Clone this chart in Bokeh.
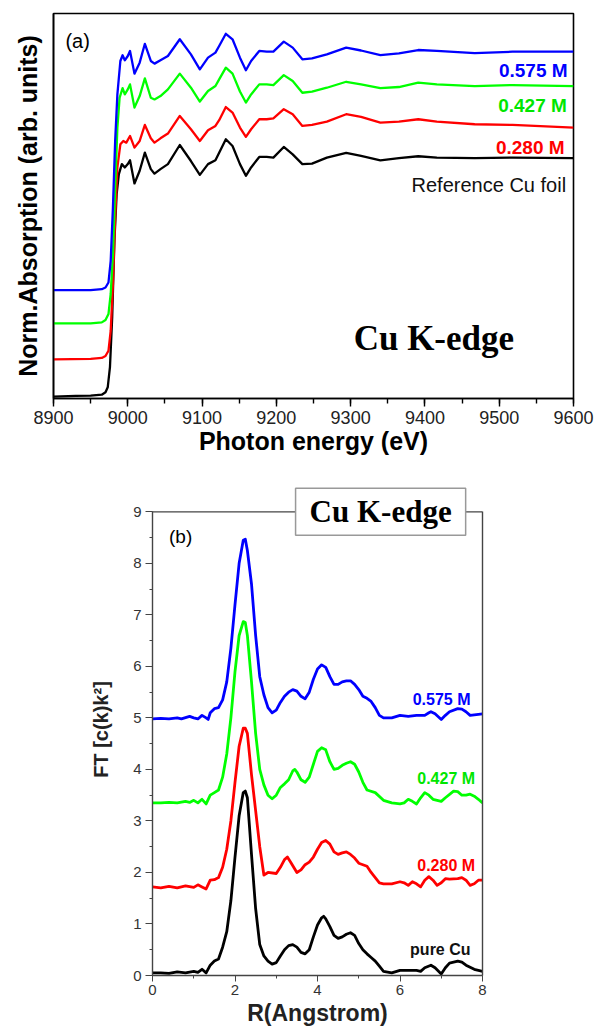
from bokeh.plotting import figure
from bokeh.models import Label, Range1d, SingleIntervalTicker, FixedTicker, LinearAxis, Span
from bokeh.embed import file_html
from bokeh.resources import INLINE

# ---------------- (a) XANES data ----------------
E_foil = [8900, 8930, 8950, 8965, 8970, 8973, 8976, 8979, 8982, 8985, 8988, 8992, 8996, 9000, 9003,
          9009, 9016, 9023, 9031, 9036, 9044, 9054, 9070, 9085, 9097, 9108, 9118, 9123, 9132, 9141,
          9151, 9159, 9166, 9177, 9187, 9196, 9210, 9222, 9235, 9248, 9268, 9294, 9314, 9340, 9365,
          9391, 9416, 9467, 9518, 9600]
mu_foil = [0.000, 0.003, 0.004, 0.008, 0.018, 0.039, 0.123, 0.332, 0.653, 0.848, 0.932, 0.974, 0.960, 0.974, 0.990,
           0.893, 0.946, 1.022, 0.953, 0.934, 0.953, 0.974, 1.054, 0.987, 0.929, 0.974, 0.990, 1.022, 1.078, 1.050,
           0.974, 0.925, 0.960, 1.004, 1.004, 1.001, 1.046, 1.015, 0.974, 0.976, 1.001, 1.021, 1.008, 0.990, 0.999,
           1.007, 1.001, 0.999, 1.001, 0.999]

E_280 = [8900, 8950, 8965, 8970, 8974, 8977, 8980, 8983, 8986, 8990, 8994, 8998, 9003, 9009, 9016,
         9023, 9031, 9036, 9044, 9054, 9070, 9085, 9097, 9108, 9118, 9123, 9132, 9141, 9151, 9159,
         9166, 9177, 9187, 9196, 9210, 9222, 9235, 9248, 9268, 9294, 9314, 9340, 9365, 9391, 9416,
         9467, 9518, 9600]
mu_280 = [0.156, 0.158, 0.162, 0.170, 0.192, 0.276, 0.471, 0.750, 0.960, 1.057, 1.071, 1.064, 1.092, 1.043, 1.071,
          1.138, 1.082, 1.064, 1.082, 1.102, 1.176, 1.120, 1.071, 1.116, 1.134, 1.158, 1.213, 1.190, 1.127, 1.088,
          1.120, 1.162, 1.162, 1.166, 1.204, 1.183, 1.134, 1.138, 1.152, 1.183, 1.172, 1.148, 1.152, 1.162, 1.152,
          1.141, 1.138, 1.127]

E_427 = [8900, 8950, 8965, 8970, 8974, 8977, 8980, 8983, 8986, 8989, 8993, 8996, 9000, 9003, 9009,
         9016, 9023, 9031, 9036, 9044, 9054, 9070, 9085, 9097, 9108, 9118, 9123, 9132, 9141, 9151,
         9159, 9166, 9177, 9187, 9196, 9210, 9222, 9235, 9248, 9268, 9294, 9314, 9340, 9365, 9391,
         9416, 9467, 9518, 9600]
mu_427 = [0.307, 0.307, 0.311, 0.321, 0.346, 0.430, 0.597, 0.876, 1.127, 1.252, 1.292, 1.266, 1.287, 1.308, 1.211,
          1.259, 1.333, 1.252, 1.245, 1.259, 1.287, 1.353, 1.294, 1.236, 1.280, 1.301, 1.329, 1.378, 1.353, 1.278,
          1.232, 1.266, 1.308, 1.308, 1.305, 1.347, 1.322, 1.273, 1.278, 1.294, 1.319, 1.308, 1.292, 1.297, 1.315,
          1.308, 1.301, 1.305, 1.301]

E_575 = [8900, 8950, 8965, 8970, 8974, 8977, 8980, 8983, 8986, 8990, 8993, 8996, 9000, 9003, 9009,
         9016, 9023, 9031, 9036, 9044, 9054, 9070, 9085, 9097, 9108, 9118, 9123, 9132, 9141, 9151,
         9159, 9166, 9177, 9187, 9196, 9210, 9222, 9235, 9248, 9268, 9294, 9314, 9340, 9365, 9391,
         9416, 9467, 9518, 9600]
mu_575 = [0.446, 0.446, 0.450, 0.457, 0.478, 0.569, 0.792, 1.071, 1.266, 1.406, 1.430, 1.409, 1.427, 1.448, 1.353,
          1.399, 1.478, 1.406, 1.395, 1.409, 1.427, 1.497, 1.434, 1.371, 1.420, 1.441, 1.469, 1.520, 1.497, 1.420,
          1.367, 1.406, 1.448, 1.445, 1.445, 1.487, 1.462, 1.413, 1.417, 1.434, 1.462, 1.450, 1.431, 1.438, 1.452,
          1.448, 1.439, 1.445, 1.445]

# ---------------- (b) FT data ----------------
R_cu = [0.0, 0.2, 0.4, 0.6, 0.8, 1.0, 1.1, 1.2, 1.3, 1.4, 1.5, 1.6, 1.7, 1.8, 1.9,
        2.0, 2.1, 2.2, 2.25, 2.3, 2.4, 2.5, 2.6, 2.7, 2.8, 2.9, 3.0, 3.1, 3.2, 3.3,
        3.4, 3.5, 3.6, 3.7, 3.8, 3.9, 4.0, 4.1, 4.15, 4.2, 4.3, 4.4, 4.5, 4.6, 4.7,
        4.8, 4.9, 5.0, 5.1, 5.2, 5.3, 5.4, 5.5, 5.6, 5.8, 6.0, 6.2, 6.4, 6.5, 6.6,
        6.75, 6.85, 7.0, 7.1, 7.2, 7.4, 7.5, 7.6, 7.8, 8.0]
FT_cu = [0.05, 0.05, 0.04, 0.07, 0.05, 0.08, 0.06, 0.12, 0.05, 0.2, 0.28, 0.32, 0.55, 0.85, 1.45,
         2.3, 3.1, 3.55, 3.58, 3.45, 2.35, 1.3, 0.6, 0.38, 0.28, 0.22, 0.25, 0.38, 0.5, 0.58,
         0.6, 0.55, 0.45, 0.42, 0.5, 0.75, 0.98, 1.12, 1.15, 1.1, 0.95, 0.78, 0.72, 0.75, 0.8,
         0.83, 0.78, 0.62, 0.5, 0.42, 0.35, 0.28, 0.18, 0.08, 0.05, 0.1, 0.1, 0.1, 0.08, 0.15,
         0.2, 0.15, 0.03, 0.15, 0.24, 0.28, 0.26, 0.2, 0.12, 0.08]

R_280 = [0.0, 0.2, 0.4, 0.6, 0.8, 1.0, 1.1, 1.2, 1.3, 1.4, 1.5, 1.6, 1.7, 1.8, 1.9,
         2.0, 2.1, 2.2, 2.25, 2.3, 2.4, 2.5, 2.6, 2.7, 2.8, 3.0, 3.1, 3.2, 3.27, 3.35,
         3.5, 3.6, 3.7, 3.8, 3.9, 4.0, 4.1, 4.2, 4.3, 4.4, 4.5, 4.6, 4.7, 4.8, 4.9,
         5.0, 5.1, 5.2, 5.3, 5.4, 5.5, 5.6, 5.8, 6.0, 6.1, 6.2, 6.3, 6.4, 6.5, 6.6,
         6.7, 6.8, 6.9, 7.0, 7.1, 7.2, 7.4, 7.5, 7.6, 7.7, 7.8, 7.9, 8.0]
FT_280 = [1.72, 1.70, 1.73, 1.70, 1.74, 1.71, 1.76, 1.72, 1.68, 1.85, 1.86, 1.9, 2.1, 2.45, 3.0,
          3.75, 4.45, 4.8, 4.8, 4.7, 3.9, 3.2, 2.5, 1.95, 2.0, 1.98, 2.1, 2.25, 2.3, 2.2,
          2.0, 2.05, 2.15, 2.2, 2.3, 2.45, 2.58, 2.62, 2.55, 2.4, 2.35, 2.38, 2.4, 2.35, 2.28,
          2.18, 2.15, 2.12, 2.0, 1.9, 1.8, 1.78, 1.78, 1.82, 1.8, 1.75, 1.82, 1.78, 1.72, 1.85,
          1.92, 1.85, 1.75, 1.8, 1.88, 1.87, 1.88, 1.9, 1.85, 1.75, 1.78, 1.85, 1.85]

R_427 = [0.0, 0.2, 0.4, 0.6, 0.8, 0.9, 1.0, 1.1, 1.2, 1.3, 1.4, 1.5, 1.6, 1.7, 1.8,
         1.9, 2.0, 2.1, 2.2, 2.25, 2.3, 2.4, 2.5, 2.6, 2.7, 2.8, 2.9, 3.0, 3.1, 3.2,
         3.3, 3.4, 3.45, 3.5, 3.6, 3.7, 3.8, 3.9, 4.0, 4.1, 4.2, 4.3, 4.4, 4.5, 4.6,
         4.7, 4.8, 4.9, 5.0, 5.1, 5.2, 5.4, 5.6, 5.8, 6.0, 6.1, 6.2, 6.3, 6.4, 6.5,
         6.6, 6.7, 6.8, 6.9, 7.0, 7.1, 7.3, 7.4, 7.5, 7.6, 7.7, 7.8, 7.9, 8.0]
FT_427 = [3.35, 3.35, 3.36, 3.35, 3.38, 3.36, 3.4, 3.35, 3.42, 3.33, 3.5, 3.55, 3.6, 3.85, 4.3,
          5.0, 5.9, 6.6, 6.87, 6.85, 6.6, 5.7, 4.7, 4.0, 3.7, 3.5, 3.43, 3.5, 3.65, 3.72,
          3.8, 3.97, 4.0, 3.95, 3.8, 3.75, 3.85, 4.1, 4.35, 4.42, 4.38, 4.15, 4.0, 4.02, 4.08,
          4.12, 4.15, 4.1, 3.95, 3.75, 3.6, 3.55, 3.4, 3.35, 3.33, 3.35, 3.42, 3.38, 3.33, 3.45,
          3.55, 3.5, 3.42, 3.4, 3.38, 3.45, 3.58, 3.57, 3.5, 3.5, 3.52, 3.48, 3.42, 3.35]

R_575 = [0.0, 0.2, 0.4, 0.6, 0.7, 0.9, 1.0, 1.1, 1.2, 1.3, 1.35, 1.4, 1.5, 1.6, 1.7,
         1.8, 1.9, 2.0, 2.1, 2.2, 2.25, 2.3, 2.4, 2.5, 2.6, 2.7, 2.8, 2.9, 3.0, 3.1,
         3.2, 3.3, 3.4, 3.5, 3.6, 3.7, 3.8, 3.9, 4.0, 4.1, 4.2, 4.3, 4.4, 4.5, 4.6,
         4.7, 4.8, 4.9, 5.0, 5.1, 5.2, 5.3, 5.4, 5.5, 5.6, 5.8, 6.0, 6.2, 6.4, 6.6,
         6.7, 6.75, 6.85, 7.0, 7.1, 7.2, 7.4, 7.5, 7.6, 7.7, 7.8, 8.0]
FT_575 = [4.98, 4.99, 4.98, 5.0, 4.98, 5.03, 5.0, 4.98, 5.05, 5.0, 4.97, 5.1, 5.18, 5.2, 5.35,
          5.7, 6.35, 7.2, 8.0, 8.45, 8.47, 8.25, 7.6, 6.6, 5.8, 5.45, 5.2, 5.1, 5.15, 5.3,
          5.42, 5.5, 5.55, 5.52, 5.42, 5.37, 5.5, 5.75, 5.95, 6.03, 5.98, 5.8, 5.65, 5.65, 5.7,
          5.72, 5.72, 5.65, 5.55, 5.42, 5.38, 5.32, 5.2, 5.05, 5.0, 5.0, 5.05, 5.03, 5.05, 5.05,
          5.1, 5.12, 5.08, 4.97, 5.05, 5.12, 5.18, 5.17, 5.12, 5.05, 5.06, 5.08]

SANS = "Liberation Sans"
SERIF = "Liberation Serif"

# ================= Panel (a) =================
p1 = figure(width=595, height=463, x_range=Range1d(8900, 9600), y_range=Range1d(-0.008, 1.605),
            output_backend="svg", toolbar_location=None,
            min_border_left=53, min_border_right=22, min_border_top=13, min_border_bottom=65)
p1.xgrid.visible = False
p1.ygrid.visible = False
p1.outline_line_color = "black"
p1.outline_line_width = 1.6
p1.outline_line_alpha = 1.0

xa = p1.xaxis[0]
xa.ticker = SingleIntervalTicker(interval=100, num_minor_ticks=2)
xa.axis_label = "Photon energy (eV)"
xa.axis_label_text_font = SANS
xa.axis_label_text_font_style = "bold"
xa.axis_label_text_font_size = "25px"
xa.axis_label_text_color = "black"
xa.axis_label_standoff = 0
xa.major_label_text_font = SANS
xa.major_label_text_font_size = "18px"
xa.major_label_text_color = "#222222"
xa.major_label_standoff = 4
xa.major_tick_in = 0
xa.major_tick_out = 8
xa.minor_tick_in = 0
xa.minor_tick_out = 5
xa.axis_line_width = 1.6
xa.major_tick_line_width = 1.4
xa.minor_tick_line_width = 1.4

ya = p1.yaxis[0]
ya.ticker = FixedTicker(ticks=[])
ya.axis_label = "Norm.Absorption (arb. units)"
ya.axis_label_text_font = SANS
ya.axis_label_text_font_style = "bold"
ya.axis_label_text_font_size = "25px"
ya.axis_label_text_color = "black"
ya.axis_label_standoff = 12
ya.major_tick_out = 0
ya.major_tick_in = 0
ya.minor_tick_out = 0
ya.major_label_standoff = 0
ya.axis_line_width = 1.6

p1.line(E_foil, mu_foil, line_color="black", line_width=2.3, line_join="round")
p1.line(E_280, mu_280, line_color="#ff0000", line_width=2.3, line_join="round")
p1.line(E_427, mu_427, line_color="#00ff00", line_width=2.3, line_join="round")
p1.line(E_575, mu_575, line_color="#0000ff", line_width=2.3, line_join="round")

p1.add_layout(Label(x=8916, y=1.49, text="(a)", text_font=SANS, text_font_size="20px",
                    text_color="black", text_align="left", text_baseline="middle"))
p1.add_layout(Label(x=9592, y=1.367, text="0.575 M", text_font=SANS, text_font_style="bold",
                    text_font_size="19px", text_color="#0000ff", text_align="right", text_baseline="alphabetic"))
p1.add_layout(Label(x=9591, y=1.220, text="0.427 M", text_font=SANS, text_font_style="bold",
                    text_font_size="19px", text_color="#00e600", text_align="right", text_baseline="alphabetic"))
p1.add_layout(Label(x=9588, y=1.043, text="0.280 M", text_font=SANS, text_font_style="bold",
                    text_font_size="19px", text_color="#ff0000", text_align="right", text_baseline="alphabetic"))
p1.add_layout(Label(x=9590, y=0.887, text="Reference Cu foil", text_font=SANS,
                    text_font_size="20px", text_color="#111111", text_align="right", text_baseline="alphabetic"))
p1.add_layout(Label(x=9412, y=0.245, text="Cu K-edge", text_font=SERIF, text_font_style="bold",
                    text_font_size="35px", text_color="black", text_align="center", text_baseline="alphabetic"))

# ================= Panel (b) =================
FRAME_GRAY = "#444444"
p2 = figure(width=595, height=567, x_range=Range1d(0, 8), y_range=Range1d(0, 9.55),
            output_backend="svg", toolbar_location=None,
            min_border_left=152, min_border_right=113, min_border_top=20, min_border_bottom=55)
p2.xgrid.visible = False
p2.ygrid.visible = False
p2.outline_line_color = None

xb = p2.xaxis[0]
xb.ticker = SingleIntervalTicker(interval=2, num_minor_ticks=2)
xb.axis_label = "R(Angstrom)"
xb.axis_label_text_font = SANS
xb.axis_label_text_font_style = "bold"
xb.axis_label_text_font_size = "23px"
xb.axis_label_text_color = "#222222"
xb.axis_label_standoff = 2
xb.major_label_text_font = SANS
xb.major_label_text_font_size = "15px"
xb.major_label_text_color = "#333333"
xb.major_label_standoff = 3
xb.major_tick_in = 0
xb.major_tick_out = 6
xb.minor_tick_in = 0
xb.minor_tick_out = 3
xb.axis_line_color = FRAME_GRAY
xb.major_tick_line_color = FRAME_GRAY
xb.minor_tick_line_color = FRAME_GRAY
xb.axis_line_width = 1.4

yb = p2.yaxis[0]
yb.ticker = SingleIntervalTicker(interval=1, num_minor_ticks=2)
yb.bounds = (0, 9)
yb.axis_label = "FT [c(k)k²]"
yb.axis_label_text_font = SANS
yb.axis_label_text_font_style = "bold"
yb.axis_label_text_font_size = "20px"
yb.axis_label_text_color = "#222222"
yb.axis_label_standoff = 18
yb.major_label_text_font = SANS
yb.major_label_text_font_size = "15px"
yb.major_label_text_color = "#333333"
yb.major_label_standoff = 4
yb.major_tick_in = 0
yb.major_tick_out = 7
yb.minor_tick_in = 0
yb.minor_tick_out = 3
yb.axis_line_color = FRAME_GRAY
yb.major_tick_line_color = FRAME_GRAY
yb.minor_tick_line_color = FRAME_GRAY
yb.axis_line_width = 1.4

right_axis = LinearAxis(ticker=FixedTicker(ticks=[]), bounds=(0, 9), axis_line_color=FRAME_GRAY,
                        axis_line_width=1.4, major_tick_out=0, major_tick_in=0, minor_tick_out=0,
                        major_label_standoff=0)
p2.add_layout(right_axis, "right")

p2.add_layout(Span(location=9, dimension="width", line_color=FRAME_GRAY, line_width=1.4))

p2.line(R_cu, FT_cu, line_color="black", line_width=2.8, line_join="round")
p2.line(R_280, FT_280, line_color="#ff0000", line_width=2.8, line_join="round")
p2.line(R_427, FT_427, line_color="#00ff00", line_width=2.8, line_join="round")
p2.line(R_575, FT_575, line_color="#0000ff", line_width=2.8, line_join="round")

p2.add_layout(Label(x=0.40, y=8.52, text="(b)", text_font=SANS, text_font_size="19px",
                    text_color="black", text_align="left", text_baseline="middle"))
p2.add_layout(Label(x=7.71, y=5.36, text="0.575 M", text_font=SANS, text_font_style="bold",
                    text_font_size="16px", text_color="#0000ff", text_align="right", text_baseline="alphabetic"))
p2.add_layout(Label(x=7.82, y=3.82, text="0.427 M", text_font=SANS, text_font_style="bold",
                    text_font_size="16px", text_color="#00e600", text_align="right", text_baseline="alphabetic"))
p2.add_layout(Label(x=7.82, y=2.14, text="0.280 M", text_font=SANS, text_font_style="bold",
                    text_font_size="16px", text_color="#ff0000", text_align="right", text_baseline="alphabetic"))
p2.add_layout(Label(x=7.71, y=0.51, text="pure Cu", text_font=SANS, text_font_style="bold",
                    text_font_size="16px", text_color="#111111", text_align="right", text_baseline="alphabetic"))
p2.add_layout(Label(x=5.53, y=9.0, text="Cu K-edge", text_font=SERIF, text_font_style="bold",
                    text_font_size="31px", text_color="black", text_align="center", text_baseline="middle",
                    background_fill_color="white", border_line_color="#999999", border_line_width=1.5,
                    padding=(14, 6)))

open("out.html", "w").write(file_html([p1, p2], INLINE))
